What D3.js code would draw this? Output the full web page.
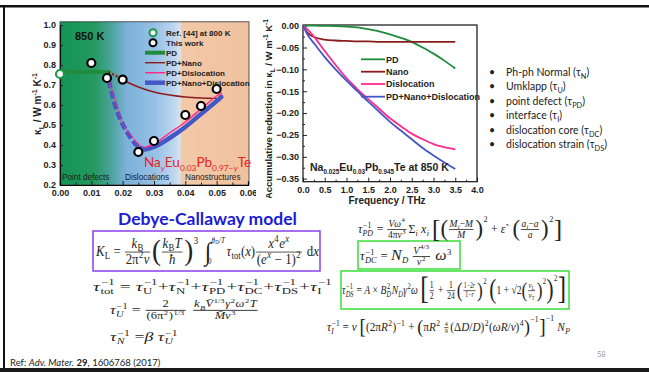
<!DOCTYPE html>
<html><head><meta charset="utf-8">
<script src="https://cdn.jsdelivr.net/npm/d3@7"></script>
<style>
html,body{margin:0;padding:0;background:#fff;}
svg{display:block;}
text{white-space:pre;}
</style></head><body>
<svg id="slide" width="649" height="372"></svg>
<script>
// ---------- Left panel: lattice thermal conductivity vs Na content y ----------
const naContent    = [0.010, 0.015, 0.020, 0.025, 0.030, 0.040, 0.045, 0.050];
const kappaMeasured = [0.81, 0.735, 0.727, 0.365, 0.42, 0.55, 0.595, 0.68];
const refX = [0.000];
const refKappa = [0.755];
const pdX = [0.000, 0.0155];
const pdKappa = [0.765, 0.765];
const pdNanoDotX = [0.0155, 0.018, 0.020];
const pdNanoDotKappa = [0.765, 0.745, 0.725];
const pdNanoX = [0.020, 0.025, 0.030, 0.035, 0.040, 0.045, 0.050];
const pdNanoKappa = [0.725, 0.69, 0.665, 0.65, 0.64, 0.635, 0.633];
const pdDisDotX = [0.0155, 0.0178, 0.0199, 0.0221, 0.0242, 0.0263, 0.0275];
const pdDisDotKappa = [0.73, 0.61, 0.51, 0.46, 0.417, 0.392, 0.39];
const pdDisX = [0.0275, 0.030, 0.035, 0.040, 0.045, 0.050, 0.0515];
const pdDisKappa = [0.39, 0.405, 0.46, 0.515, 0.58, 0.645, 0.66];
const allDashX = [0.0155, 0.0176, 0.0195, 0.0213, 0.0239, 0.0255];
const allDashKappa = [0.725, 0.60, 0.52, 0.467, 0.408, 0.385];
const allX = [0.0255, 0.0268, 0.030, 0.035, 0.040, 0.045, 0.050, 0.0515];
const allKappa = [0.385, 0.378, 0.39, 0.435, 0.49, 0.555, 0.62, 0.64];
const leftXTicks = [0.00, 0.01, 0.02, 0.03, 0.04, 0.05, 0.06];
const leftYTicks = [0.2, 0.3, 0.4, 0.5, 0.6, 0.7, 0.8, 0.9, 1.0];
const regionLabels = ["Point defects", "Dislocations", "Nanostructures"];
const legendLeft = ["Ref. [44] at 800 K", "This work", "PD", "PD+Nano", "PD+Dislocation", "PD+Nano+Dislocation"];

// ---------- Right panel: accumulative reduction in kappa_L vs frequency ----------
const freq = [0, 0.1, 0.25, 0.5, 0.75, 1.0, 1.25, 1.5, 1.75, 2.0, 2.25, 2.5, 2.75, 3.0, 3.25, 3.5];
const redPD   = [0, 0, 0, -0.0005, -0.001, -0.002, -0.004, -0.008, -0.013, -0.02, -0.028, -0.037, -0.05, -0.064, -0.08, -0.098];
const redNano = [0, -0.016, -0.026, -0.032, -0.034, -0.035, -0.036, -0.036, -0.037, -0.037, -0.037, -0.037, -0.037, -0.037, -0.037, -0.037];
const redDis  = [0, -0.008, -0.025, -0.058, -0.09, -0.12, -0.145, -0.168, -0.19, -0.212, -0.23, -0.247, -0.26, -0.271, -0.278, -0.283];
const redAll  = [0, -0.02, -0.04, -0.072, -0.1, -0.126, -0.15, -0.174, -0.197, -0.22, -0.24, -0.26, -0.28, -0.297, -0.313, -0.328];
const rightXTicks = [0.0, 0.5, 1.0, 1.5, 2.0, 2.5, 3.0, 3.5, 4.0];
const rightYTicks = [0.00, -0.05, -0.10, -0.15, -0.20, -0.25, -0.30, -0.35];
const legendRight = ["PD", "Nano", "Dislocation", "PD+Nano+Dislocation"];

const bullets = [
  ["Ph-ph Normal (τ", "N", ")"],
  ["Umklapp (τ", "U", ")"],
  ["point defect (τ", "PD", ")"],
  ["interface (τ", "I", ")"],
  ["dislocation core (τ", "DC", ")"],
  ["dislocation strain (τ", "DS", ")"]
];

const F_SANS = "'Liberation Sans', Arial, sans-serif";
const F_BODY = "Lato, 'Open Sans', sans-serif";
const F_MATH = "'Liberation Serif', 'DejaVu Serif', serif";

const C_PD = "#1e8c3c", C_NANO = "#8b1c1c", C_DIS = "#ff2a8c", C_ALL = "#4457c4";

const svg = d3.select("#slide");
const zip = (a, b) => a.map((v, i) => [v, b[i]]);

// rich text helper with sub/superscripts via tspans
function rich(sel, parts, fs, subK) {
  const k = subK || 0.7;
  let off = 0;
  parts.forEach(p => {
    const [t, kind] = Array.isArray(p) ? p : [p, ""];
    const kinds = (kind || "").split(" ");
    let target = 0, size = fs;
    if (kinds.includes("sub")) { target = fs * 0.3; size = fs * k; }
    if (kinds.includes("sup")) { target = -fs * 0.4; size = fs * k; }
    const ts = sel.append("tspan").attr("dy", target - off).attr("font-size", size).text(t);
    if (kinds.includes("it")) ts.attr("font-style", "italic");
    if (kinds.includes("b")) ts.attr("font-weight", "bold");
    off = target;
  });
}

// ---------- slide frame ----------
svg.append("rect").attr("x", 0).attr("y", 5).attr("width", 649).attr("height", 2.5).attr("fill", "#111");
svg.append("rect").attr("x", 3).attr("y", 5).attr("width", 2).attr("height", 367).attr("fill", "#111");
svg.append("rect").attr("x", 0).attr("y", 368).attr("width", 649).attr("height", 4).attr("fill", "#1a1a1a");

// ---------- left panel ----------
const xL = d3.scaleLinear().domain([0, 0.06]).range([60, 248]);
const yL = d3.scaleLinear().domain([0.2, 1.0]).range([185, 25]);
const gL = svg.append("g");

const defs = svg.append("defs");
const grad = defs.append("linearGradient").attr("id", "regions")
  .attr("gradientUnits", "userSpaceOnUse").attr("x1", xL(0)).attr("x2", 249).attr("y1", 0).attr("y2", 0);
[[0, "#139455"], [0.18, "#24995f"], [0.27, "#4aa39a"], [0.35, "#7cb1d9"], [0.5, "#96c0e6"],
 [0.6, "#bcd5ee"], [0.635, "#d6e2ef"], [0.645, "#f2c9a8"], [1, "#f1c19e"]]
  .forEach(([o, c]) => grad.append("stop").attr("offset", o).attr("stop-color", c));

gL.append("rect").attr("x", xL(0)).attr("y", yL(1.016)).attr("width", 249 - xL(0))
  .attr("height", yL(0.2) - yL(1.016)).attr("fill", "url(#regions)")
  .attr("stroke", "#333").attr("stroke-width", 0.8);

// axes
const axL = gL.append("g").attr("transform", `translate(${xL(0)},0)`)
  .call(d3.axisLeft(yL).tickValues(leftYTicks).tickFormat(d3.format(".1f")).tickSize(-3).tickPadding(4));
const axB = gL.append("g").attr("transform", `translate(0,${yL(0.2)})`)
  .call(d3.axisBottom(xL).tickValues(leftXTicks).tickFormat(d3.format(".2f")).tickSize(-4).tickPadding(5));
gL.append("g").attr("transform", `translate(0,${yL(0.2)})`)
  .call(d3.axisBottom(xL).tickValues(d3.range(0.005, 0.06, 0.01)).tickFormat("").tickSize(-2.5));
[axL, axB].forEach(a => {
  a.select(".domain").attr("stroke", "#111").attr("stroke-width", 1.2);
  a.selectAll("text").attr("font-family", F_SANS).attr("font-weight", "bold").attr("font-size", 9).attr("fill", "#222");
});
gL.selectAll(".tick line").attr("stroke", "#222");

// model curves
const lineL = d3.line().x(d => xL(d[0])).y(d => yL(d[1])).curve(d3.curveMonotoneX);
const drawL = (xs, ys, color, w, dash) => gL.append("path").datum(zip(xs, ys)).attr("d", lineL)
  .attr("fill", "none").attr("stroke", color).attr("stroke-width", w)
  .attr("stroke-dasharray", dash || null).attr("stroke-linecap", dash ? "butt" : "round");
drawL(pdX, pdKappa, C_PD, 4);
drawL(pdNanoDotX, pdNanoDotKappa, C_NANO, 2.4, "2,2");
drawL(pdNanoX, pdNanoKappa, C_NANO, 1.4);
drawL(allDashX, allDashKappa, C_ALL, 4.5, "8,3");
drawL(allX, allKappa, C_ALL, 4.5);
drawL(pdDisDotX, pdDisDotKappa, C_DIS, 1.6, "1.5,1.5");
drawL(pdDisX, pdDisKappa, C_DIS, 1.5);

// measured points
gL.selectAll("circle.meas").data(zip(naContent, kappaMeasured)).join("circle")
  .attr("class", "meas").attr("cx", d => xL(d[0])).attr("cy", d => yL(d[1])).attr("r", 4)
  .attr("fill", "#fff").attr("stroke", "#000").attr("stroke-width", 2.2);
gL.selectAll("circle.ref").data(zip(refX, refKappa)).join("circle")
  .attr("class", "ref").attr("cx", d => xL(d[0])).attr("cy", d => yL(d[1])).attr("r", 4)
  .attr("fill", "#fff").attr("stroke", "#1f9a4a").attr("stroke-width", 2.2);

// annotations
gL.append("text").attr("x", 75).attr("y", 40).attr("font-family", F_SANS).attr("font-weight", "bold")
  .attr("font-size", 11).attr("fill", "#111").text("850 K");
const regionX = [62, 125, 185];
regionLabels.forEach((t, i) => gL.append("text").attr("x", regionX[i]).attr("y", 179.5)
  .attr("font-family", F_SANS).attr("font-size", 8.2).attr("fill", "#1a1a1a").text(t));
rich(gL.append("text").attr("x", 144).attr("y", 167).attr("font-family", F_BODY).attr("fill", "#e8231d"),
  ["Na", ["y", "sub it"], "Eu", ["0.03", "sub"], "Pb", ["0.97−y", "sub"], "Te"], 13.5, 0.62);

// legend
const legY = [32.7, 42.7, 52.7, 62.7, 72.7, 82.7];
gL.append("circle").attr("cx", 153).attr("cy", legY[0]).attr("r", 3.5).attr("fill", "#fff")
  .attr("stroke", "#1f9a4a").attr("stroke-width", 2);
gL.append("circle").attr("cx", 153).attr("cy", legY[1]).attr("r", 3.5).attr("fill", "#fff")
  .attr("stroke", "#000").attr("stroke-width", 2);
[[C_PD, 4], [C_NANO, 1.4], [C_DIS, 1.5], [C_ALL, 4.5]].forEach(([c, w], i) =>
  gL.append("line").attr("x1", 145).attr("x2", 165).attr("y1", legY[i + 2]).attr("y2", legY[i + 2])
    .attr("stroke", c).attr("stroke-width", w));
legendLeft.forEach((t, i) => gL.append("text").attr("x", 166).attr("y", legY[i] + 3)
  .attr("font-family", F_SANS).attr("font-weight", "bold").attr("font-size", 8).attr("fill", "#222").text(t));

rich(gL.append("text").attr("transform", "translate(41,104) rotate(-90)").attr("text-anchor", "middle")
  .attr("font-family", F_SANS).attr("font-weight", "bold").attr("fill", "#222"),
  ["κ", ["L", "sub"], " / W m", ["-1", "sup"], " K", ["-1", "sup"]], 10);

// ---------- right panel ----------
const gR = svg.append("g");
defs.append("clipPath").attr("id", "rpanel").append("rect")
  .attr("x", 256).attr("y", 14).attr("width", 230).attr("height", 184);
gR.append("rect").attr("x", 256).attr("y", 14).attr("width", 230).attr("height", 193).attr("fill", "#fff");
const xR = d3.scaleLinear().domain([0, 4]).range([303, 477]);
const yR = d3.scaleLinear().domain([-0.357, 0.0015]).range([181.7, 25]);

const axRL = gR.append("g").attr("transform", `translate(${xR(0)},0)`)
  .call(d3.axisLeft(yR).tickValues(rightYTicks).tickFormat(d3.format(".2f")).tickSize(-4).tickPadding(4));
gR.append("g").attr("transform", `translate(${xR(0)},0)`)
  .call(d3.axisLeft(yR).tickValues(d3.range(-0.025, -0.36, -0.05)).tickFormat("").tickSize(-2));
const axRB = gR.append("g").attr("transform", `translate(0,${yR.range()[0]})`)
  .call(d3.axisBottom(xR).tickValues(rightXTicks).tickFormat(d3.format(".1f")).tickSize(-4).tickPadding(5));
gR.append("g").attr("transform", `translate(0,${yR.range()[0]})`)
  .call(d3.axisBottom(xR).tickValues(d3.range(0.25, 4, 0.5)).tickFormat("").tickSize(-2));
[axRL, axRB].forEach(a => {
  a.selectAll("text").attr("font-family", F_SANS).attr("font-weight", "bold").attr("font-size", 9).attr("fill", "#222");
});
gR.selectAll(".domain").attr("stroke", "none");
gR.selectAll(".tick line").attr("stroke", "#222");
gR.append("rect").attr("x", xR(0)).attr("y", yR(0.0015)).attr("width", xR(4) - xR(0))
  .attr("height", yR(-0.357) - yR(0.0015)).attr("fill", "none").attr("stroke", "#111").attr("stroke-width", 1.2);

const lineR = d3.line().x(d => xR(d[0])).y(d => yR(d[1])).curve(d3.curveMonotoneX);
[[redPD, C_PD], [redNano, C_NANO], [redDis, C_DIS], [redAll, C_ALL]].forEach(([v, c]) =>
  gR.append("path").datum(zip(freq, v)).attr("d", lineR).attr("fill", "none")
    .attr("stroke", c).attr("stroke-width", 1.8));

const legRY = [59.3, 71.7, 84, 96.7];
legendRight.forEach((t, i) => {
  gR.append("line").attr("x1", 361).attr("x2", 385).attr("y1", legRY[i]).attr("y2", legRY[i])
    .attr("stroke", [C_PD, C_NANO, C_DIS, C_ALL][i]).attr("stroke-width", 1.8);
  gR.append("text").attr("x", 386).attr("y", legRY[i] + 3.3).attr("font-family", F_SANS)
    .attr("font-weight", "bold").attr("font-size", 9).attr("fill", "#222").text(t);
});
rich(gR.append("text").attr("x", 310).attr("y", 171).attr("font-family", F_SANS).attr("font-weight", "bold").attr("fill", "#222"),
  ["Na", ["0.025", "sub"], "Eu", ["0.03", "sub"], "Pb", ["0.945", "sub"], "Te at 850 K"], 10.5, 0.6);
gR.append("text").attr("x", 387).attr("y", 204).attr("text-anchor", "middle").attr("font-family", F_SANS)
  .attr("font-weight", "bold").attr("font-size", 10).attr("fill", "#222").text("Frequency / THz");
// axis title runs off the bottom of the panel, so it is clipped there
rich(gR.append("g").attr("clip-path", "url(#rpanel)").append("text")
  .attr("transform", "translate(272,19) rotate(-90)")
  .attr("text-anchor", "end").attr("font-family", F_SANS).attr("font-weight", "bold").attr("fill", "#222"),
  ["Accumulative reduction in κ", ["L", "sub"], " / W m", ["-1", "sup"], " K", ["-1", "sup"]], 9.5);

// ---------- bullet list ----------
bullets.forEach((b, i) => {
  const y = 75.5 + i * 14.5;
  svg.append("text").attr("x", 489).attr("y", y).attr("font-family", F_BODY).attr("font-size", 10.5)
    .attr("fill", "#222").text("•");
  rich(svg.append("text").attr("x", 506).attr("y", y).attr("font-family", F_BODY).attr("fill", "#222"),
    [b[0], [b[1], "sub"], b[2]], 10.5);
});

// ---------- Debye-Callaway model ----------
svg.append("text").attr("x", 118).attr("y", 225).attr("font-family", F_BODY).attr("font-weight", "bold")
  .attr("font-size", 17.5).attr("fill", "#1c1cd4").text("Debye-Callaway model");
svg.append("rect").attr("x", 93).attr("y", 231).attr("width", 227).attr("height", 40)
  .attr("fill", "none").attr("stroke", "#8a3ff0").attr("stroke-width", 1.5);
svg.append("rect").attr("x", 358).attr("y", 241).attr("width", 102).attr("height", 28)
  .attr("fill", "none").attr("stroke", "#45e045").attr("stroke-width", 1.6);
svg.append("rect").attr("x", 341).attr("y", 271).attr("width", 228).attr("height", 38)
  .attr("fill", "none").attr("stroke", "#45e045").attr("stroke-width", 1.6);

// small math layout engine
function mathRow(g, items, x, y, fs) {
  let cx = x;
  items.forEach(it => { cx += mathItem(g, it, cx, y, fs); });
  return cx - x;
}
function mathItem(g, it, x, y, fs) {
  if (typeof it === "string") it = { t: it };
  if (it.t !== undefined) {
    const el = g.append("text").attr("x", x).attr("y", y).attr("font-size", fs * (it.k || 1))
      .attr("font-style", it.i ? "italic" : "normal").text(it.t);
    return el.node().getComputedTextLength();
  }
  if (it.sup) return mathRow(g, it.sup, x + 0.5, y - fs * (it.up || 0.42), fs * 0.68) + 1;
  if (it.sub) return mathRow(g, it.sub, x + 0.3, y + fs * 0.22, fs * 0.68) + 0.5;
  if (it.ss) {
    const a = mathRow(g, it.ss[0], x + 0.3, y + fs * 0.24, fs * 0.66);
    const b = mathRow(g, it.ss[1], x + 0.8, y - fs * 0.42, fs * 0.66);
    return Math.max(a, b) + 1;
  }
  if (it.frac) {
    const f = fs * (it.k || 1);
    const gn = g.append("g"), gd = g.append("g");
    const wn = mathRow(gn, it.frac[0], 0, 0, f);
    const wd = mathRow(gd, it.frac[1], 0, 0, f);
    const w = Math.max(wn, wd) + fs * 0.25;
    const axis = y - fs * 0.28;
    gn.attr("transform", `translate(${x + (w - wn) / 2},${axis - f * 0.3})`);
    gd.attr("transform", `translate(${x + (w - wd) / 2},${axis + f * 0.86})`);
    g.append("line").attr("x1", x + 1).attr("x2", x + w - 1).attr("y1", axis).attr("y2", axis)
      .attr("stroke", "#222").attr("stroke-width", 0.8);
    return w + 1;
  }
  if (it.big) {
    const S = fs * it.big[1];
    const el = g.append("text").attr("x", x).attr("y", y - fs * 0.25 + S * 0.26)
      .attr("font-size", S).attr("font-weight", 300).text(it.big[0]);
    return el.node().getComputedTextLength();
  }
  if (it.int) {
    const S = fs * 1.8;
    const el = g.append("text").attr("x", x).attr("y", y - fs * 0.25 + S * 0.3).attr("font-size", S).text("∫");
    const w = el.node().getComputedTextLength();
    const lw = mathRow(g, it.int[0], x + w * 0.5, y + fs * 0.6, fs * 0.55);
    const uw = mathRow(g, it.int[1], x + w * 1.05, y - fs * 0.95, fs * 0.55);
    return w + Math.max(lw, uw) * 0.95 + 3;
  }
  return 0;
}
function equation(items, x, y, fs, width) {
  const g = svg.append("g").attr("font-family", F_MATH).attr("fill", "#222");
  const inner = g.append("g");
  const w = mathRow(inner, items, 0, 0, fs);
  const sx = width ? width / w : 1;
  inner.attr("transform", `translate(${x},${y}) scale(${sx},1)`);
  return g;
}
const I = t => ({ t, i: 1 });
const sub = (...a) => ({ sub: a });
const sup = (...a) => ({ sup: a });
const ss = (a, b) => ({ ss: [a, b] });
const frac = (n, d, k) => ({ frac: [n, d], k });
const big = (c, k) => ({ big: [c, k] });

// lattice thermal conductivity integral
equation([I("K"), sub("L"), " = ", frac([I("k"), sub("B")], ["2π", sup("2"), I("v")]),
  big("(", 2.1), frac([I("k"), sub("B"), I("T")], [I("ħ")]), big(")", 2.1), { sup: ["3"], up: 0.85 }, "  ",
  { int: [["0"], [I("θ"), sub("D"), "/", I("T")]] }, I("τ"), sub("tot"), "(", I("x"), ")",
  frac([I("x"), sup("4"), I("e"), sup(I("x"))], ["(", I("e"), sup(I("x")), " − 1)", sup("2")]),
  " d", I("x")], 96, 256, 14, 223);
// total scattering rate
equation([I("τ"), ss(["tot"], ["−1"]), " = ", I("τ"), ss(["U"], ["−1"]), "+", I("τ"), ss(["N"], ["−1"]), "+",
  I("τ"), ss(["PD"], ["−1"]), "+", I("τ"), ss(["DC"], ["−1"]), "+", I("τ"), ss(["DS"], ["−1"]), "+",
  I("τ"), ss(["I"], ["−1"])], 93, 291, 13.5, 239);
// Umklapp
equation([I("τ"), ss([I("U")], ["−1"]), " = ", frac(["2"], ["(6π", sup("2"), ")", sup("1/3")], 0.8), " ",
  frac([I("k"), sub(I("B")), I("V̄"), sup("1/3"), I("γ"), sup("2"), I("ω"), sup("2"), I("T")], [I("M̄"), I("v"), sup("3")], 0.8)],
  110, 314, 13, 150);
// normal processes
equation([I("τ"), ss([I("N")], ["−1"]), " =", I("β"), " ", I("τ"), ss([I("U")], ["−1"])], 110, 341, 13, 68);
// point defects
equation([I("τ"), ss([I("PD")], ["−1"]), " = ", frac([I("V"), I("ω"), sup("4")], ["4π", I("v"), sup("3")], 0.8),
  "Σ", sub(I("i")), " ", I("x"), sub(I("i")), " ", big("[", 2.1), big("(", 1.9),
  frac([I("M"), sub(I("i")), "−", I("M")], [I("M")], 0.8), big(")", 1.9), { sup: ["2"], up: 0.85 }, " + ",
  I("ε"), "` ", big("(", 1.9), frac([I("a"), sub(I("i")), "−", I("a")], [I("a")], 0.8), big(")", 1.9),
  { sup: ["2"], up: 0.85 }, big("]", 2.1)], 358, 233, 12.5, 204);
// dislocation core
equation([I("τ"), ss([I("DC")], ["−1"]), " = ", { t: "N", i: 1, k: 1.25 }, sub(I("D")), " ",
  frac([I("V"), sup("4/3")], [I("v"), sup("2")], 0.8), " ", { t: "ω", i: 1, k: 1.25 }, sup("3")], 360, 260, 12.5, 92);
// dislocation strain
equation([I("τ"), ss([I("DS")], ["−1"]), " = ", I("A"), " × ", I("B"), ss([I("D")], ["2"]), I("N"), sub(I("D")),
  I("γ"), sup("2"), I("ω"), " ", big("[", 2.6), frac(["1"], ["2"], 0.8), " + ", frac(["1"], ["24"], 0.8),
  big("(", 1.8), frac(["1−2", I("r")], ["1−", I("r")], 0.6), big(")", 1.8), { sup: ["2"], up: 0.85 }, " ",
  big("(", 2.2), "1 + √2", big("(", 1.8), frac([I("v"), sub("L")], [I("v"), sub("T")], 0.7), big(")", 1.8),
  { sup: ["2"], up: 0.85 }, big(")", 2.2), { sup: ["2"], up: 1.05 }, big("]", 2.6)], 342, 294, 12, 224);
// interface scattering
equation([I("τ"), ss([I("I")], ["−1"]), " = ", I("v"), " ", big("[", 1.7), "(2π", I("R"), sup("2"), ")", sup("−1"),
  " + ", big("(", 1.6), "π", I("R"), sup("2"), " ", frac(["4"], ["9"], 0.55), "(Δ", I("D"), "/", I("D"), ")", sup("2"),
  "(", I("ω"), I("R"), "/", I("v"), ")", sup("4"), big(")", 1.6), { sup: ["−1"], up: 0.75 }, big("]", 1.7),
  { sup: ["−1"], up: 0.85 }, " ", I("N"), sub(I("P"))], 327, 331, 12, 243);

// ---------- footer ----------
rich(svg.append("text").attr("x", 10).attr("y", 366).attr("font-family", F_BODY).attr("fill", "#222"),
  ["Ref: ", ["Adv. Mater.", "it"], " ", ["29", "b"], ", 1606768 (2017)"], 9.5);
svg.append("text").attr("x", 597).attr("y", 357).attr("font-family", F_BODY).attr("font-size", 7.5)
  .attr("fill", "#999").text("58");
</script>
</body></html>
